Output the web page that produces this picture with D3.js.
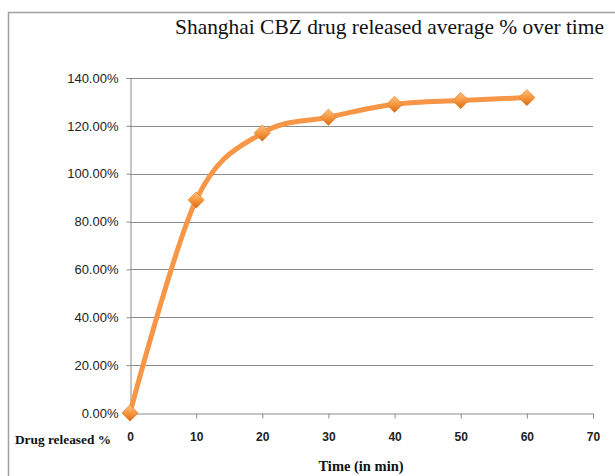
<!DOCTYPE html>
<html>
<head>
<meta charset="utf-8">
<script src="https://cdn.jsdelivr.net/npm/d3@7"></script>
<style>
  html, body { margin: 0; padding: 0; background: #fff; }
  svg { display: block; }
</style>
</head>
<body>
<svg id="chart" width="615" height="476"></svg>
<script>
// Dissolution data: time (min) and average % of drug released
const times = [0, 10, 20, 30, 40, 50, 60];
const released = [0, 89.0, 117.0, 123.6, 129.0, 130.6, 131.8];
const xTicks = [0, 10, 20, 30, 40, 50, 60, 70];
const yTicks = [0, 20, 40, 60, 80, 100, 120, 140];
const titleText = "Shanghai CBZ drug released average % over time";
const xTitle = "Time (in min)";
const seriesLabel = "Drug released %";

const svg = d3.select("#chart");

// outer chart frame
svg.append("path")
  .attr("d", "M8.5,476 V12.5 H615")
  .attr("fill", "none").attr("stroke", "#a0a0a0").attr("stroke-width", 1.5);

const x = d3.scaleLinear().domain([0, 70]).range([130, 593]);
const y = d3.scaleLinear().domain([0, 140]).range([413, 78]);

// horizontal gridlines
svg.append("g").selectAll("line").data(yTicks.filter(d => d > 0)).join("line")
  .attr("x1", x(0)).attr("x2", x(70))
  .attr("y1", d => Math.round(y(d)) + 0.5).attr("y2", d => Math.round(y(d)) + 0.5)
  .attr("stroke", "#8c8c8c").attr("stroke-width", 1);

// y axis
const yAxis = svg.append("g")
  .attr("transform", `translate(${x(0) + 0.5},0)`)
  .call(d3.axisLeft(y).tickValues(yTicks).tickSize(4).tickPadding(8)
    .tickFormat(d => d.toFixed(2) + "%"));
yAxis.select(".domain").attr("stroke", "#8c8c8c");
yAxis.selectAll(".tick line").attr("stroke", "#8c8c8c");
yAxis.selectAll("text")
  .attr("font-family", "'Liberation Sans', Arial, sans-serif")
  .attr("font-size", "13px").attr("fill", "#222");

// x axis
const xAxis = svg.append("g")
  .attr("transform", `translate(0,${Math.round(y(0)) + 0.5})`)
  .call(d3.axisBottom(x).tickValues(xTicks).tickSize(5).tickPadding(14)
    .tickFormat(d3.format("d")));
xAxis.select(".domain").attr("stroke", "#8c8c8c");
xAxis.selectAll(".tick line").attr("stroke", "#8c8c8c");
xAxis.selectAll("text")
  .attr("font-family", "'Liberation Sans', Arial, sans-serif")
  .attr("font-weight", "bold")
  .attr("font-size", "12px").attr("fill", "#222");

// series label next to the x tick labels
svg.append("text")
  .attr("x", 111).attr("y", 444)
  .attr("text-anchor", "end")
  .attr("font-family", "'Liberation Serif', 'Times New Roman', serif")
  .attr("font-weight", "bold").attr("font-size", "13.5px")
  .attr("textLength", 96).attr("lengthAdjust", "spacingAndGlyphs")
  .attr("fill", "#111")
  .text(seriesLabel);

// titles
svg.append("text")
  .attr("x", 604).attr("y", 34)
  .attr("text-anchor", "end")
  .attr("font-family", "'Liberation Serif', 'Times New Roman', serif")
  .attr("font-size", "21px").attr("fill", "#111")
  .attr("textLength", 429).attr("lengthAdjust", "spacingAndGlyphs")
  .text(titleText);

svg.append("text")
  .attr("x", 361).attr("y", 471)
  .attr("text-anchor", "middle")
  .attr("font-family", "'Liberation Serif', 'Times New Roman', serif")
  .attr("font-weight", "bold").attr("font-size", "14.5px").attr("fill", "#111")
  .text(xTitle);

// marker gradient
const defs = svg.append("defs");
const grad = defs.append("linearGradient").attr("id", "mk")
  .attr("x1", "0").attr("y1", "0").attr("x2", "0").attr("y2", "1");
grad.append("stop").attr("offset", "0%").attr("stop-color", "#fcc07e");
grad.append("stop").attr("offset", "50%").attr("stop-color", "#f7983f");
grad.append("stop").attr("offset", "100%").attr("stop-color", "#d9680e");

const pts = times.map((t, i) => [t, released[i]]);

// smoothed line
const line = d3.line()
  .x(d => x(d[0])).y(d => y(d[1]))
  .curve(d3.curveCardinal.tension(0));
svg.append("path")
  .datum(pts)
  .attr("d", line)
  .attr("fill", "none")
  .attr("stroke", "#f79646")
  .attr("stroke-width", 5)
  .attr("stroke-linejoin", "round");

// diamond markers
const sym = d3.symbol().type(d3.symbolDiamond2).size(170);
svg.append("g").selectAll("path").data(pts).join("path")
  .attr("transform", d => `translate(${x(d[0])},${y(d[1])})`)
  .attr("d", sym)
  .attr("fill", "url(#mk)")
  .attr("stroke", "#e07b28").attr("stroke-width", 0.6);
</script>
</body>
</html>
